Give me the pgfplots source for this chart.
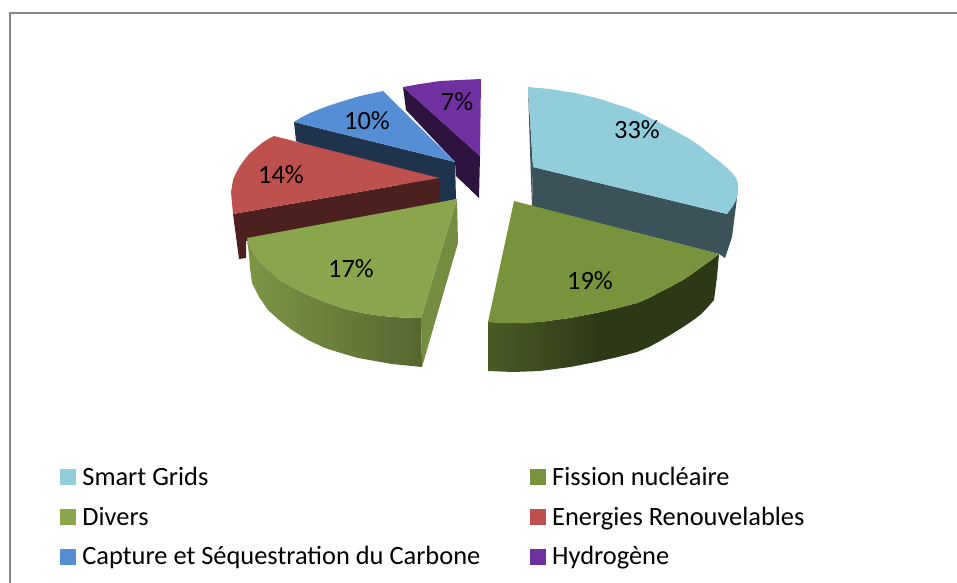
\documentclass[border=0pt]{standalone}
\usepackage{pgfplots}
\pgfplotsset{compat=1.18}
\usepackage{fontspec}
\setmainfont{Carlito}
\definecolor{cSmart}{HTML}{92CDDC}
\definecolor{cFission}{HTML}{77933C}
\definecolor{cDivers}{HTML}{8AA64D}
\definecolor{cEnerg}{HTML}{BE504E}
\definecolor{cCapture}{HTML}{558ED5}
\definecolor{cHydro}{HTML}{7030A0}
\definecolor{cFrame}{HTML}{868686}
\pgfplotsset{
  swatch/.style={legend image code/.code={\fill[##1] (0bp,-7.5bp) rectangle (15bp,7.5bp);\path (20bp,0bp);}},
  poly/.style={draw=none,fill=#1,forget plot},
}
\newcommand{\pct}[2]{\node[font=\fontsize{26.4bp}{30bp}\selectfont,text=black,inner sep=0pt] at (axis cs:#1) {#2};}
\begin{document}
\begin{tikzpicture}
\begin{axis}[
  scale only axis,width=957bp,height=583bp,
  xmin=0,xmax=957,ymin=0,ymax=583,y dir=reverse,
  hide axis,clip=true,
  legend columns=2,
  legend style={draw=none,fill=none,at={(axis cs:60,465)},anchor=north west,
    font=\fontsize{26.4bp}{30bp}\selectfont,inner sep=0pt,outer sep=0pt,
    /tikz/every even column/.append style={column sep=47.5bp},
    /tikz/row sep=16bp},
  legend cell align=left,
]
% frame
\addplot[draw=cFrame,line width=2bp,forget plot] coordinates {(10,583)(10,13.5)(957,13.5)};
% Hydrogene
\addplot[poly=cHydro!40!black] coordinates {(403,87)(480,156)(479,198)(456,176)(455,162)(406,110)} --cycle;
\addplot[poly=cHydro] coordinates {(403,87)(420,84)(440,81)(460,80)(481,79)(480,156)} --cycle;
% Capture
\addplot[poly=cCapture!36!black] coordinates {(294,122)(455,162)(456,199)(439,203)(296,141)} --cycle;
\addplot[poly=cCapture] coordinates {(294,122)(302,117)(310,113)(325,107)(340,102)(360,96)(383,91)(455,162)} --cycle;
% Energies
\addplot[poly=cEnerg!40!black] coordinates {(233,214)(439,178)(440,203)(246,241)(246,258)(239,259)} --cycle;
\addplot[poly=cEnerg] coordinates {(274,136)(268,139)(262,143)(256,148)(250,153)(245,159)(240,166)(236,173)(233,180)(232,186)(231,192)(232,203)(233,214)(439,178)} --cycle;
% Divers
\addplot[draw=none,left color=cDivers!90!black,right color=cDivers!62!black,forget plot] coordinates {(247,238)(252,250)(258,260)(268,270)(280,280)(294,288)(308,295)(325,302)(342,308)(362,313)(382,316)(402,317.5)(421,318)(422,367)(407,365.5)(392,364)(375,361)(358,358)(341,353)(325,348)(308,340)(292,330)(279,320)(268,310)(259,297)(252,283)(250,268)(249,255)} --cycle;
\addplot[poly=cDivers!85!black] coordinates {(457,199)(458,243)(422,367)(421,318)} --cycle;
\addplot[poly=cDivers] coordinates {(247,238)(457,199)(421,318)(402,317.5)(382,316)(362,313)(342,308)(325,302)(308,295)(294,288)(280,280)(268,270)(258,260)(252,250)} --cycle;
% Smart Grids
\addplot[poly=cSmart!40!black] coordinates {(528,87)(533,167)(532,206)(530,150)} --cycle;
\addplot[poly=cSmart!40!black] coordinates {(533,167)(727,214)(738,183)(737,198)(732,237)(725,258)(719,254)(532,206)} --cycle;
\addplot[poly=cSmart] coordinates {(528,87)(539,88)(550,89)(562,91)(575,93)(588,96)(600,99)(612,103)(625,107)(638,112)(650,118)(662,124)(675,131)(688,138)(700,146)(711,155)(720,162)(727,168)(733,174)(736,178)(738,183)(738,191)(737,198)(733,206)(727,214)(533,167)} --cycle;
% Fission
\addplot[draw=none,left color=cFission!62!black,right color=cFission!38!black,forget plot] coordinates {(488,322)(513,323)(540,322)(570,318)(601,312)(601,361)(570,367)(540,371)(513,372)(488,371)} --cycle;
\addplot[poly=cFission!38!black] coordinates {(600,312)(618,308)(637,303)(649,298)(660,292)(672,286)(683,280)(692,274)(700,268)(710,261)(719,254)(717,277)(714,300)(707,308)(700,315)(692,321)(683,327)(672,334)(660,341)(649,347)(637,352)(618,357)(600,361)} --cycle;
\addplot[poly=cFission] coordinates {(514,201)(719,254)(710,261)(700,268)(692,274)(683,280)(672,286)(660,292)(649,298)(637,303)(618,308)(600,312)(585,315)(570,318)(555,320)(540,322)(527,323)(513,323)(500,323)(488,322)} --cycle;
% labels
\pct{637,130}{33\%}
\pct{590,281}{19\%}
\pct{351,269}{17\%}
\pct{281,175}{14\%}
\pct{367,121}{10\%}
\pct{457,102}{7\%}
% legend
\addlegendimage{swatch,cSmart}\addlegendentry{Smart Grids}
\addlegendimage{swatch,cFission}\addlegendentry{Fission nucléaire}
\addlegendimage{swatch,cDivers}\addlegendentry{Divers}
\addlegendimage{swatch,cEnerg}\addlegendentry{Energies Renouvelables}
\addlegendimage{swatch,cCapture}\addlegendentry{Capture et Séquestration du Carbone}
\addlegendimage{swatch,cHydro}\addlegendentry{Hydrogène}
\end{axis}
\path (0,0) rectangle (957bp,583bp);
\end{tikzpicture}
\end{document}
